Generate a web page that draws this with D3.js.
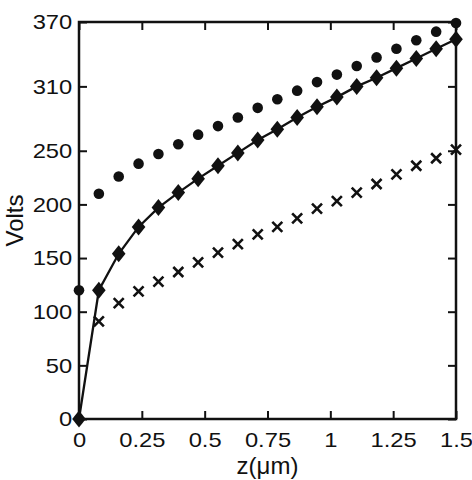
<!DOCTYPE html>
<html>
<head>
<meta charset="utf-8">
<script src="https://cdn.jsdelivr.net/npm/d3@7"></script>
<style>
  body { margin: 0; background: #fff; }
  svg text { font-family: "Liberation Sans", Arial, sans-serif; fill: #111; }
</style>
</head>
<body>
<div id="chart"></div>
<script>
// z positions (um), 20 samples from 0 to 1.5
const zValues = [0, 0.079, 0.158, 0.237, 0.316, 0.395, 0.474, 0.553, 0.632, 0.711,
  0.789, 0.868, 0.947, 1.026, 1.105, 1.184, 1.263, 1.342, 1.421, 1.5];

// dotted series (circles)
const circleVolts = [120, 210, 226, 238, 247, 256, 265, 273, 281, 290,
  298, 306, 314, 321, 329, 337, 345, 353, 361, 369];

// solid line with diamonds
const diamondVolts = [0, 120, 154, 179, 197, 211, 224, 236, 248, 260,
  270, 281, 291, 300, 310, 318, 327, 336, 345, 354];

// crosses (none at z = 0)
const crossVolts = [null, 91, 108, 119, 128, 137, 146, 155, 163, 172,
  179, 187, 196, 203, 211, 219, 228, 236, 243, 251];

const xTicks = [0, 0.25, 0.5, 0.75, 1, 1.25, 1.5];
const xTickLabels = ["0", "0.25", "0.5", "0.75", "1", "1.25", "1.5"];
const yTicks = [0, 50, 100, 150, 200, 250, 310, 370];

const width = 472, height = 480;
const margin = { top: 22, right: 16, bottom: 61, left: 79 };
const innerW = width - margin.left - margin.right;
const innerH = height - margin.top - margin.bottom;

const svg = d3.select("#chart").append("svg")
  .attr("width", width)
  .attr("height", height);

const g = svg.append("g")
  .attr("transform", "translate(" + margin.left + "," + margin.top + ")");

const x = d3.scaleLinear().domain([0, 1.5]).range([0, innerW]);
const y = d3.scaleLinear().domain([0, 370]).range([innerH, 0]);

// axes: ticks point inward, mirrored on top/right
const tickLen = 8;
const fontSize = 21;
const stretch = 1.13; // tick labels in the original are a bit wide

function styleAxis(sel) {
  sel.select(".domain").remove();
  sel.selectAll(".tick line").attr("stroke", "#111").attr("stroke-width", 2);
}

const xAxisG = g.append("g")
  .attr("transform", "translate(0," + innerH + ")")
  .call(d3.axisBottom(x).tickValues(xTicks)
    .tickFormat((d, i) => xTickLabels[i])
    .tickSizeInner(-tickLen).tickPadding(tickLen + 5));
styleAxis(xAxisG);
xAxisG.selectAll("text")
  .attr("font-size", fontSize)
  .attr("font-family", "Liberation Sans, Arial, sans-serif")
  .attr("transform", "scale(" + stretch + ",1)");

const xTopG = g.append("g")
  .call(d3.axisTop(x).tickValues(xTicks).tickFormat("").tickSizeInner(-tickLen));
styleAxis(xTopG);

const yAxisG = g.append("g")
  .call(d3.axisLeft(y).tickValues(yTicks)
    .tickSizeInner(-tickLen).tickPadding(6));
styleAxis(yAxisG);
yAxisG.selectAll("text")
  .attr("font-size", fontSize)
  .attr("font-family", "Liberation Sans, Arial, sans-serif")
  .attr("transform", "scale(" + stretch + ",1)");

const yRightG = g.append("g")
  .attr("transform", "translate(" + innerW + ",0)")
  .call(d3.axisRight(y).tickValues(yTicks).tickFormat("").tickSizeInner(-tickLen));
styleAxis(yRightG);

// frame
g.append("rect")
  .attr("x", 0).attr("y", 0)
  .attr("width", innerW).attr("height", innerH)
  .attr("fill", "none")
  .attr("stroke", "#111")
  .attr("stroke-width", 2.5);

// axis labels
svg.append("text")
  .attr("x", margin.left + x(0.75))
  .attr("y", 474)
  .attr("text-anchor", "middle")
  .attr("font-size", 24)
  .text("z(\u03bcm)");

svg.append("text")
  .attr("transform", "translate(23," + (margin.top + innerH / 2) + ") rotate(-90)")
  .attr("text-anchor", "middle")
  .attr("font-size", 24)
  .text("Volts");

// line through diamonds
const line = d3.line()
  .x((d, i) => x(zValues[i]))
  .y(d => y(d));

g.append("path")
  .datum(diamondVolts)
  .attr("d", line)
  .attr("fill", "none")
  .attr("stroke", "#111")
  .attr("stroke-width", 2.3);

// diamonds
const diamond = "M0,-8.5L6.8,0L0,8.5L-6.8,0Z";
g.selectAll(".diamond")
  .data(diamondVolts)
  .enter()
  .append("path")
  .attr("class", "diamond")
  .attr("transform", (d, i) => "translate(" + x(zValues[i]) + "," + y(d) + ")")
  .attr("d", diamond)
  .attr("fill", "#111");

// circles
g.selectAll(".dot")
  .data(circleVolts)
  .enter()
  .append("circle")
  .attr("class", "dot")
  .attr("cx", (d, i) => x(zValues[i]))
  .attr("cy", d => y(d))
  .attr("r", 5.3)
  .attr("fill", "#111");

// crosses
const cross = "M-5,-5L5,5M-5,5L5,-5";
g.selectAll(".cross")
  .data(crossVolts.map((v, i) => ({ z: zValues[i], v: v })).filter(d => d.v !== null))
  .enter()
  .append("path")
  .attr("class", "cross")
  .attr("transform", d => "translate(" + x(d.z) + "," + y(d.v) + ")")
  .attr("d", cross)
  .attr("fill", "none")
  .attr("stroke", "#111")
  .attr("stroke-width", 2.6);
</script>
</body>
</html>
